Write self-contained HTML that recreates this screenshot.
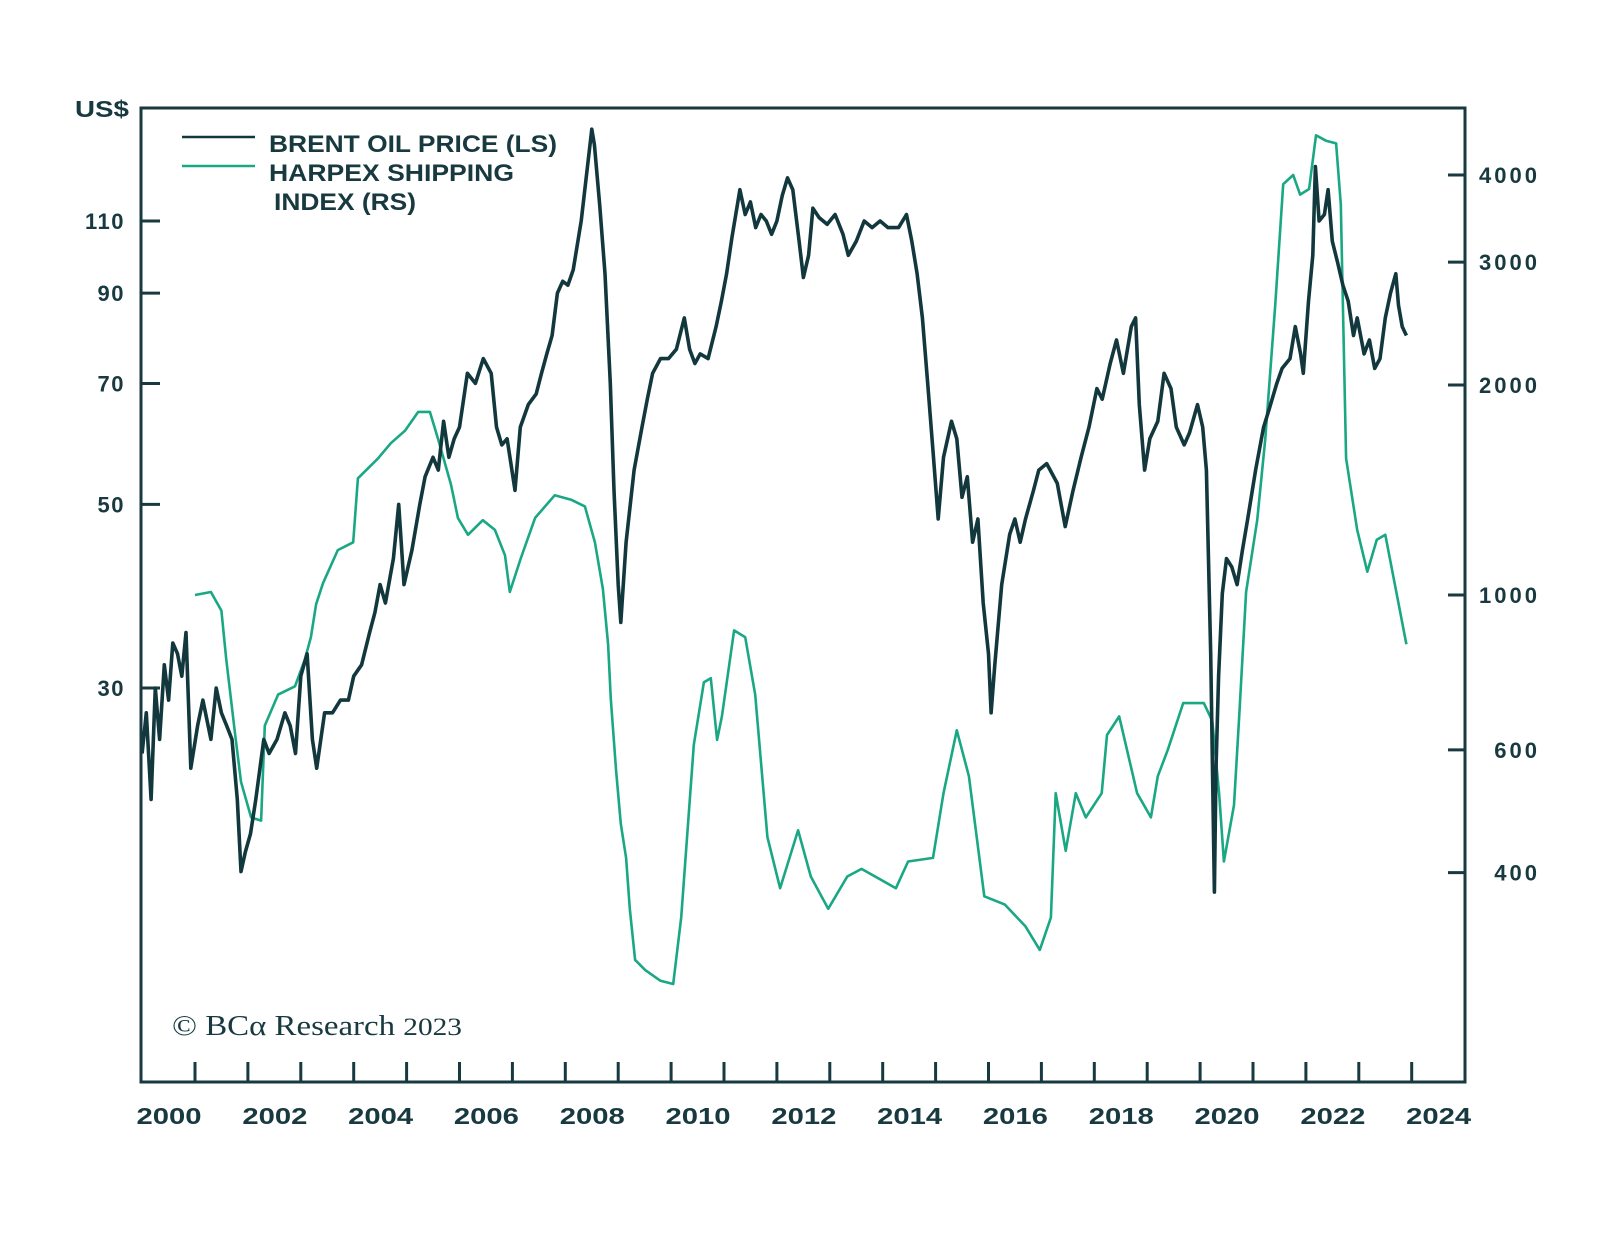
<!DOCTYPE html>
<html><head><meta charset="utf-8"><style>
html,body{margin:0;padding:0;background:#fff;}
svg{display:block;}
</style></head><body>
<svg id="chart" width="1600" height="1247" viewBox="0 0 1600 1247" xmlns="http://www.w3.org/2000/svg">
<rect x="0" y="0" width="1600" height="1247" fill="#fff"/>
<g id="marks"></g>
<rect x="141" y="108" width="1324" height="974" fill="none" stroke="#17393f" stroke-width="3"/>
<g id="axes"></g>
<text x="75" y="117" textLength="54" lengthAdjust="spacingAndGlyphs" font-family="Liberation Sans, sans-serif" font-weight="bold" font-size="23" fill="#17393f">US$</text>
<g>
<line x1="182" y1="137" x2="255" y2="137" stroke="#12383e" stroke-width="2.5"/>
<line x1="182" y1="166" x2="255" y2="166" stroke="#1aa784" stroke-width="2.5"/>
<text x="269" y="152" textLength="288" lengthAdjust="spacingAndGlyphs" font-family="Liberation Sans, sans-serif" font-weight="bold" font-size="24" fill="#17393f">BRENT OIL PRICE (LS)</text>
<text x="269" y="181" textLength="245" lengthAdjust="spacingAndGlyphs" font-family="Liberation Sans, sans-serif" font-weight="bold" font-size="24" fill="#17393f">HARPEX SHIPPING</text>
<text x="274" y="210" textLength="142" lengthAdjust="spacingAndGlyphs" font-family="Liberation Sans, sans-serif" font-weight="bold" font-size="24" fill="#17393f">INDEX (RS)</text>
</g>
<text x="172" y="1035" textLength="290" lengthAdjust="spacingAndGlyphs" font-family="Liberation Serif, serif" font-size="28" fill="#17393f">© BCα Research <tspan font-size="25">2023</tspan></text>
</svg>
<script>
const brentT=[
2000.0,2000.08,2000.17,2000.25,2000.33,2000.42,2000.5,2000.58,2000.67,2000.75,2000.83,2000.92,
2001.05,2001.15,2001.3,2001.4,2001.5,2001.6,2001.7,2001.8,2001.87,2001.95,
2002.05,2002.15,2002.3,2002.4,2002.55,2002.7,2002.8,2002.9,
2003.0,2003.12,2003.22,2003.3,2003.45,2003.6,2003.75,2003.9,
2004.0,2004.15,2004.3,2004.4,2004.5,2004.6,2004.75,2004.85,2004.95,
2005.1,2005.25,2005.35,2005.5,2005.6,2005.7,2005.8,2005.9,
2006.0,2006.15,2006.3,2006.45,2006.6,2006.7,2006.8,2006.9,
2007.05,2007.15,2007.3,2007.45,2007.55,2007.65,2007.75,2007.85,2007.95,
2008.05,2008.15,2008.3,2008.4,2008.5,2008.55,2008.65,2008.75,2008.85,2008.92,
2009.0,2009.05,2009.15,2009.3,2009.45,2009.55,2009.65,2009.8,2009.95,
2010.1,2010.25,2010.35,2010.45,2010.55,2010.7,2010.85,2010.95,
2011.05,2011.15,2011.3,2011.4,2011.5,2011.6,2011.7,2011.8,2011.9,
2012.0,2012.1,2012.2,2012.3,2012.42,2012.5,2012.6,2012.68,2012.8,2012.95,
2013.1,2013.25,2013.35,2013.5,2013.65,2013.8,2013.95,
2014.1,2014.3,2014.45,2014.55,2014.65,2014.75,2014.85,2014.95,
2015.05,2015.15,2015.3,2015.4,2015.5,2015.6,2015.7,2015.8,2015.9,
2016.0,2016.05,2016.12,2016.25,2016.4,2016.5,2016.6,2016.7,2016.85,2016.95,
2017.1,2017.3,2017.45,2017.6,2017.75,2017.9,
2018.05,2018.15,2018.3,2018.42,2018.55,2018.7,2018.78,2018.85,2018.95,
2019.05,2019.2,2019.32,2019.45,2019.55,2019.7,2019.8,2019.95,
2020.05,2020.12,2020.2,2020.27,2020.3,2020.35,2020.42,2020.5,2020.6,2020.7,2020.8,2020.9,
2021.05,2021.2,2021.3,2021.45,2021.55,2021.7,2021.8,2021.9,2021.95,
2022.05,2022.13,2022.18,2022.25,2022.35,2022.42,2022.5,2022.6,2022.7,2022.8,2022.9,2022.97,
2023.1,2023.2,2023.3,2023.4,2023.5,2023.6,2023.7,2023.75,2023.82,2023.9];
const brentV=[
25,28,22,30,26,32,29,34,33,31,35,24,
27,29,26,30,28,27,26,22,18,19,
20,22,26,25,26,28,27,25,
31,33,26,24,28,28,29,29,
31,32,35,37,40,38,43,50,40,
44,50,54,57,55,63,57,60,
62,72,70,75,72,62,59,60,
52,62,66,68,72,76,80,90,93,
92,96,110,125,142,136,115,95,70,52,
40,36,45,55,62,67,72,75,75,
77,84,77,74,76,75,82,88,
95,105,120,112,116,108,112,110,106,
110,118,124,120,104,94,100,114,111,109,
112,106,100,104,110,108,110,
108,108,112,104,95,84,70,58,
48,57,63,60,51,54,45,48,38,
33,28,32,40,46,48,45,48,52,55,
56,53,47,52,57,62,
69,67,74,79,72,82,84,66,55,
60,63,72,69,62,59,61,66,
62,55,33,17,24,31,39,43,42,40,44,48,
55,62,65,70,73,75,82,76,72,
88,100,128,110,112,120,104,98,92,88,80,84,
76,79,73,75,84,90,95,87,82,80];
const harpT=[2001.0,2001.3,2001.5,2001.59,2001.76,2001.87,2002.06,2002.25,2002.32,2002.57,2002.89,2003.08,2003.19,2003.29,2003.42,2003.7,2003.99,2004.08,2004.46,2004.7,2004.97,2005.22,2005.44,2005.6,2005.84,2005.97,2006.16,2006.44,2006.67,2006.86,2006.95,2007.16,2007.43,2007.8,2008.11,2008.37,2008.56,2008.71,2008.81,2008.86,2008.96,2009.05,2009.15,2009.22,2009.32,2009.51,2009.8,2010.04,2010.19,2010.43,2010.62,2010.75,2010.87,2010.96,2011.19,2011.4,2011.59,2011.82,2012.06,2012.4,2012.64,2012.97,2013.33,2013.6,2014.25,2014.48,2014.95,2015.15,2015.4,2015.63,2015.92,2016.31,2016.7,2016.97,2017.18,2017.27,2017.46,2017.65,2017.84,2018.14,2018.24,2018.47,2018.81,2019.07,2019.2,2019.39,2019.68,2020.07,2020.23,2020.36,2020.45,2020.64,2020.74,2020.87,2021.08,2021.23,2021.42,2021.57,2021.76,2021.89,2022.06,2022.19,2022.38,2022.57,2022.66,2022.76,2022.97,2023.16,2023.34,2023.5,2023.9];
const harpV=[1000,1010,950,810,630,540,480,475,650,720,740,810,870,970,1040,1160,1190,1470,1570,1650,1720,1830,1830,1670,1440,1290,1220,1280,1240,1140,1010,1130,1290,1390,1370,1340,1190,1020,850,710,560,470,420,355,300,290,280,277,345,610,750,760,620,670,890,870,720,450,380,460,395,355,395,405,380,415,420,520,640,550,370,360,335,310,345,520,430,520,480,520,630,670,520,480,550,600,700,700,660,520,415,500,670,1010,1280,1670,2600,3880,4000,3750,3820,4560,4480,4440,3630,1570,1240,1080,1200,1220,850];
const leftTicks=[110,90,70,50,30];
const rightTicks=[4000,3000,2000,1000,600,400];
const yearTicks=[2001,2002,2003,2004,2005,2006,2007,2008,2009,2010,2011,2012,2013,2014,2015,2016,2017,2018,2019,2020,2021,2022,2023,2024];
const yearLabels=[2000,2002,2004,2006,2008,2010,2012,2014,2016,2018,2020,2022,2024];

const NS='http://www.w3.org/2000/svg';
function xS(t){return 195+(t-2001)*52.9;}
function yL(v){return 221+(Math.log(110)-Math.log(v))*359.4;}
function yR(v){return 175+(Math.log(4000)-Math.log(v))*303;}
const marks=document.getElementById('marks'), axes=document.getElementById('axes');
function mk(tag,attrs,parent){const e=document.createElementNS(NS,tag);for(const k in attrs)e.setAttribute(k,attrs[k]);parent.appendChild(e);return e;}

let d='';
harpT.forEach((t,i)=>{d+=(i?'L':'M')+xS(t).toFixed(1)+','+yR(harpV[i]).toFixed(1);});
const hp=mk('path',{d:d,fill:'none',stroke:'#1aa784','stroke-width':2.6,'stroke-linejoin':'round'},marks);


d='';
const n=Math.min(brentT.length,brentV.length);
for(let i=0;i<n;i++){d+=(i?'L':'M')+xS(brentT[i]).toFixed(1)+','+yL(brentV[i]).toFixed(1);}
const bp=mk('path',{d:d,fill:'none',stroke:'#12383e','stroke-width':3.6,'stroke-linejoin':'round'},marks);



const F='Liberation Sans, sans-serif';
leftTicks.forEach(v=>{
  const y=yL(v);
  const l=mk('line',{x1:141,y1:y,x2:160,y2:y,stroke:'#17393f','stroke-width':3},axes);
  
  
  const tx=mk('text',{x:125,y:y+8,'text-anchor':'end','letter-spacing':'1.5','font-family':F,'font-weight':'bold','font-size':22,fill:'#17393f'},axes);
  tx.textContent=v;
  
  
});
rightTicks.forEach(v=>{
  const y=yR(v);
  const l=mk('line',{x1:1448,y1:y,x2:1465,y2:y,stroke:'#17393f','stroke-width':3},axes);
  
  
  const tx=mk('text',{x:1540,y:y+8,'text-anchor':'end','letter-spacing':'3','font-family':F,'font-weight':'bold','font-size':22,fill:'#17393f'},axes);
  tx.textContent=v;
  
  
});
yearTicks.forEach(yr=>{
  const x=xS(yr);
  const l=mk('line',{x1:x,y1:1062,x2:x,y2:1082,stroke:'#17393f','stroke-width':3},axes);
  
  
});
yearLabels.forEach(yr=>{
  const tx=mk('text',{x:xS(yr+0.5)-32,y:1124,textLength:65,lengthAdjust:'spacingAndGlyphs','font-family':F,'font-weight':'bold','font-size':23,fill:'#17393f'},axes);
  tx.textContent=yr;
  
  
});
</script>
</body></html>
